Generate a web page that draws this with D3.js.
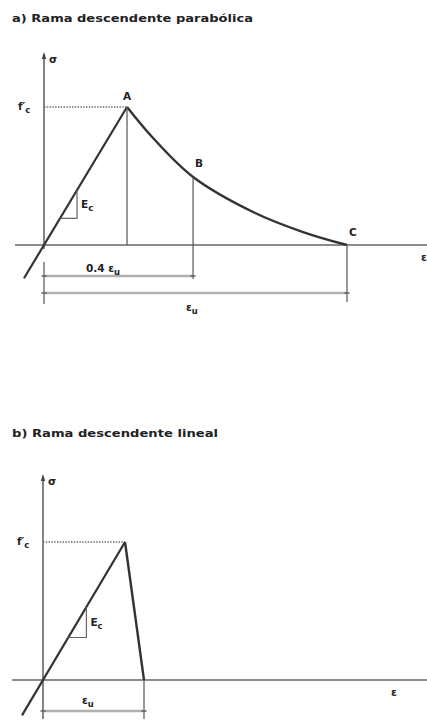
<!DOCTYPE html>
<html>
<head>
<meta charset="utf-8">
<script src="https://cdn.jsdelivr.net/npm/d3@7/dist/d3.min.js"></script>
<style>
  html, body { margin: 0; padding: 0; background: #fff; }
  svg { display: block; }
  text { font-family: "DejaVu Sans", sans-serif; fill: #222; font-weight: bold; }
</style>
</head>
<body>
<svg id="chart" width="427" height="721"></svg>
<script>
// Panel a: normalised strain (ε/εu) and stress (σ/f'c) along the parabolic descending branch
const strainA = [0.274, 0.36, 0.492, 0.69, 0.855, 1.0];
const stressA = [1.0, 0.775, 0.493, 0.239, 0.094, 0.0];
const peakA = 0.274;      // strain at A (peak)
const pointB = 0.492;     // strain at B
// Panel b: linear descending branch, strain normalised by εu
const strainB = [0, 0.812, 1.0];
const stressB = [0, 1.0, 0.0];
// Downward extension of the elastic line below the origin
const extA = -0.066;
const extB = -0.208;
// Slope triangle corners (strain) on the elastic line
const triA = [0.053, 0.109];
const triB = [0.25, 0.43];

const titles = ["a) Rama descendente  parabólica", "b) Rama descendente  lineal"];
const labels = { fc: "f′", fcSub: "c", Ec: "E", EcSub: "c", eps: "ε", sigma: "σ",
                 dim04: "0.4 ε", epsSub: "u", A: "A", B: "B", C: "C" };

const svg = d3.select("#chart");

const axisColor = "#8c8c8c", curveColor = "#333", thinColor = "#555", dimColor = "#b0b0b0";

function arrowUp(g, x, y) {
  g.append("path").attr("d", `M${x},${y} l-2.2,7 l4.4,0 Z`).attr("fill", "#444");
}

function subText(g, x, y, main, sub, size, anchor) {
  const t = g.append("text").attr("x", x).attr("y", y)
    .attr("font-size", size).attr("text-anchor", anchor || "start");
  t.append("tspan").text(main);
  t.append("tspan").attr("font-size", size * 0.8).attr("dy", size * 0.3).text(sub);
  return t;
}

function panel(opts) {
  const g = svg.append("g");
  const x = d3.scaleLinear().domain([0, 1]).range(opts.xr);
  const y = d3.scaleLinear().domain([0, 1]).range(opts.yr);
  const x0 = x(0), y0 = y(0);

  // title
  g.append("text").attr("x", opts.titleX).attr("y", opts.titleY)
    .attr("font-size", 10.5)
    .attr("textLength", opts.titleLen).attr("lengthAdjust", "spacingAndGlyphs")
    .text(opts.title);

  // axes
  g.append("line").attr("x1", opts.axisLeft).attr("x2", 427)
    .attr("y1", y0).attr("y2", y0).attr("stroke", axisColor).attr("stroke-width", 2);
  g.append("line").attr("x1", x0).attr("x2", x0)
    .attr("y1", opts.axisTop).attr("y2", opts.axisBottom)
    .attr("stroke", "#666").attr("stroke-width", 1.6);
  arrowUp(g, x0, opts.axisTop - 2);
  g.append("text").attr("x", x0 + 5).attr("y", opts.axisTop + 9)
    .attr("font-size", 10.5).text(labels.sigma);
  g.append("text").attr("x", opts.epsX).attr("y", y0 + 16)
    .attr("font-size", 10.5).text(labels.eps);

  // f'c level, dotted
  g.append("line").attr("x1", x0).attr("x2", x(opts.peak))
    .attr("y1", y(1)).attr("y2", y(1))
    .attr("stroke", "#666").attr("stroke-width", 1.4).attr("stroke-dasharray", "1.4,1.4");
  subText(g, x0 - 26, y(1) + 3, labels.fc, labels.fcSub, 10.5);

  // elastic line from below the origin to the peak
  const slope = 1 / opts.peak;
  g.append("line")
    .attr("x1", x(opts.ext)).attr("y1", y(opts.ext * slope))
    .attr("x2", x(opts.peak)).attr("y2", y(1))
    .attr("stroke", curveColor).attr("stroke-width", 2.2);

  // slope triangle
  const [t1, t2] = opts.tri;
  g.append("path")
    .attr("d", `M${x(t1)},${y(t1 * slope)} L${x(t2)},${y(t1 * slope)} L${x(t2)},${y(t2 * slope)}`)
    .attr("fill", "none").attr("stroke", "#666").attr("stroke-width", 1.2);
  subText(g, x(t2) + 4, (y(t1 * slope) + y(t2 * slope)) / 2 + 4, labels.Ec, labels.EcSub, 10.5);

  return { g, x, y, x0, y0 };
}

// ---------- panel a ----------
const pa = panel({
  xr: [44, 347], yr: [245, 107], title: titles[0], titleX: 12, titleY: 22, titleLen: 241,
  axisLeft: 15, axisTop: 54, axisBottom: 249, epsX: 421, peak: peakA, ext: extA, tri: triA
});
{
  const { g, x, y, x0, y0 } = pa;
  const pts = strainA.map((s, i) => [x(s), y(stressA[i])]);
  g.append("path").attr("d", d3.line().curve(d3.curveCatmullRom.alpha(0.5))(pts))
    .attr("fill", "none").attr("stroke", curveColor).attr("stroke-width", 2.4);

  // verticals at A, B and C
  const yB = y(stressA[strainA.indexOf(pointB)]);
  g.append("line").attr("x1", x(peakA)).attr("x2", x(peakA)).attr("y1", y(1)).attr("y2", y0)
    .attr("stroke", thinColor).attr("stroke-width", 1.2);
  g.append("line").attr("x1", x(pointB)).attr("x2", x(pointB)).attr("y1", yB).attr("y2", 279)
    .attr("stroke", thinColor).attr("stroke-width", 1.2);
  g.append("line").attr("x1", x(1)).attr("x2", x(1)).attr("y1", y0).attr("y2", 302)
    .attr("stroke", thinColor).attr("stroke-width", 1.2);
  g.append("line").attr("x1", x0).attr("x2", x0).attr("y1", 262).attr("y2", 304)
    .attr("stroke", thinColor).attr("stroke-width", 1.2);

  // point labels
  g.append("text").attr("x", x(peakA)).attr("y", y(1) - 7).attr("font-size", 10.5)
    .attr("text-anchor", "middle").text(labels.A);
  g.append("text").attr("x", x(pointB) + 2).attr("y", yB - 10).attr("font-size", 10.5).text(labels.B);
  g.append("text").attr("x", x(1) + 2).attr("y", y0 - 9).attr("font-size", 10.5).text(labels.C);

  // dimension lines
  [[pointB, 276], [1, 293]].forEach(([s, dy]) => {
    g.append("line").attr("x1", x0).attr("x2", x(s)).attr("y1", dy).attr("y2", dy)
      .attr("stroke", dimColor).attr("stroke-width", 2.5);
    [x0, x(s)].forEach(px => g.append("line").attr("x1", px - 2.5).attr("x2", px + 2.5)
      .attr("y1", dy).attr("y2", dy).attr("stroke", "#555").attr("stroke-width", 1.4));
  });
  subText(g, 86, 272, labels.dim04, labels.epsSub, 10.5);
  subText(g, 186, 311, "ε", labels.epsSub, 10.5);
}

// ---------- panel b ----------
const pb = panel({
  xr: [43, 144], yr: [680, 542], title: titles[1], titleX: 12, titleY: 437, titleLen: 206,
  axisLeft: 12, axisTop: 476, axisBottom: 719, epsX: 391, peak: strainB[1], ext: extB, tri: triB
});
{
  const { g, x, y, x0, y0 } = pb;
  // descending straight branch
  g.append("line").attr("x1", x(strainB[1])).attr("y1", y(stressB[1]))
    .attr("x2", x(strainB[2])).attr("y2", y(stressB[2]))
    .attr("stroke", curveColor).attr("stroke-width", 2.4);
  g.append("line").attr("x1", x(1)).attr("x2", x(1)).attr("y1", y0).attr("y2", 719)
    .attr("stroke", thinColor).attr("stroke-width", 1.2);
  g.append("line").attr("x1", x0).attr("x2", x(1)).attr("y1", 711).attr("y2", 711)
    .attr("stroke", dimColor).attr("stroke-width", 2.5);
  [x0, x(1)].forEach(px => g.append("line").attr("x1", px - 2.5).attr("x2", px + 2.5)
    .attr("y1", 711).attr("y2", 711).attr("stroke", "#555").attr("stroke-width", 1.4));
  subText(g, 82, 704, "ε", labels.epsSub, 10.5);
}
</script>
</body>
</html>
